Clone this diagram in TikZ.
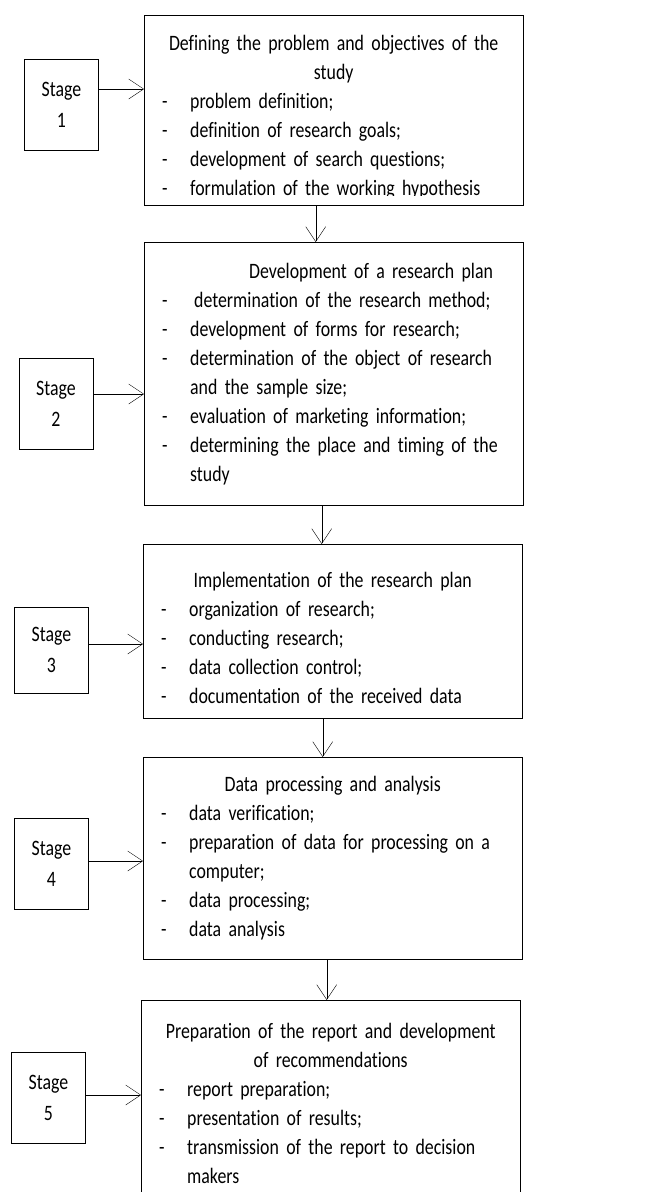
\documentclass[tikz,border=0pt]{standalone}
\usepackage{fontspec}
\setmainfont{Carlito}[Ligatures=NoCommon,FakeStretch=0.81]
\usetikzlibrary{arrows.meta}
\newcommand{\itm}[1]{\par\hangindent=28pt\hangafter=1\noindent\makebox[28pt][l]{-}#1\par}
\newcommand{\ttl}[1]{\par\centerline{#1}}
\newcommand{\lift}[1]{\par\nointerlineskip\vbox to #1{}}

\begin{document}
\begin{tikzpicture}[x=1pt,y=-1pt,stage/.style={draw,minimum width=74pt,minimum height=91pt,inner sep=0pt,align=center,font=\fontsize{22}{31}\selectfont},phase/.style={draw,anchor=north west,text width=343pt,inner xsep=18pt,inner ysep=0pt,align=left,font=\fontsize{22}{29}\selectfont},link/.style={-{Straight Barb[length=15pt,width=20pt]}}]
\useasboundingbox (0,0) rectangle (665,1192);
\clip (0,0) rectangle (665,1192);

\begin{scope}
\clip (144,15) rectangle (523,195);
\node[phase,draw=none,minimum height=190pt] (B1) at (144,15) {\ttl{Defining the problem and objectives of the}\ttl{study}
\itm{problem definition;}
\itm{definition of research goals;}
\itm{development of search questions;}
\itm{formulation of the working hypothesis}};
\end{scope}
\draw (B1.north west) rectangle (B1.south east);
\node[stage] (S1) at (61.5,105) {Stage\\1};
\draw[link] ([yshift=16pt]S1.east) -- ([yshift=16pt]S1.east -| B1.west);

\node[phase,minimum height=263pt] (B2) at (144,242) {\noindent\hspace*{87pt}Development of a research plan
\itm{\hspace{4pt}determination of the research method;}
\itm{development of forms for research;}
\itm{determination of the object of research\newline and the sample size;}
\itm{evaluation of marketing information;}
\itm{determining the place and timing of the\newline study}};
\draw[link] ([xshift=-18pt]B1.south) -- ([xshift=-18pt]B1.south |- B2.north);
\node[stage] (S2) at (56,403.5) {Stage\\2};
\draw[link] ([yshift=9.5pt]S2.east) -- ([yshift=9.5pt]S2.east -| B2.west);

\node[phase,minimum height=174pt] (B3) at (143,544) {\ttl{Implementation of the research plan}
\itm{organization of research;}
\itm{conducting research;}
\itm{data collection control;}
\itm{documentation of the received data}};
\draw[link] ([xshift=-12pt]B2.south) -- ([xshift=-12pt]B2.south |- B3.north);
\node[stage,minimum height=86pt] (S3) at (51.5,650) {Stage\\3};
\draw[link] ([yshift=6pt]S3.east) -- ([yshift=6pt]S3.east -| B3.west);

\node[phase,minimum height=202pt] (B4) at (143,757) {\ttl{Data processing and analysis}
\itm{data verification;}
\itm{preparation of data for processing on a\newline computer;}
\itm{data processing;}
\itm{data analysis}\lift{14pt}};
\draw[link] ([xshift=-10pt]B3.south) -- ([xshift=-10pt]B3.south |- B4.north);
\node[stage] (S4) at (51.5,863.5) {Stage\\4};
\draw[link] ([yshift=2.5pt]S4.east) -- ([yshift=2.5pt]S4.east -| B4.west);

\node[phase,minimum height=193pt] (B5) at (141,1000) {\ttl{Preparation of the report and development}\ttl{of recommendations}
\itm{report preparation;}
\itm{presentation of results;}
\itm{transmission of the report to decision\newline makers}};
\draw[link] ([xshift=-6pt]B4.south) -- ([xshift=-6pt]B4.south |- B5.north);
\node[stage] (S5) at (48.5,1097.5) {Stage\\5};
\draw[link] ([yshift=2.5pt]S5.east) -- ([yshift=2.5pt]S5.east -| B5.west);
\end{tikzpicture}
\end{document}
